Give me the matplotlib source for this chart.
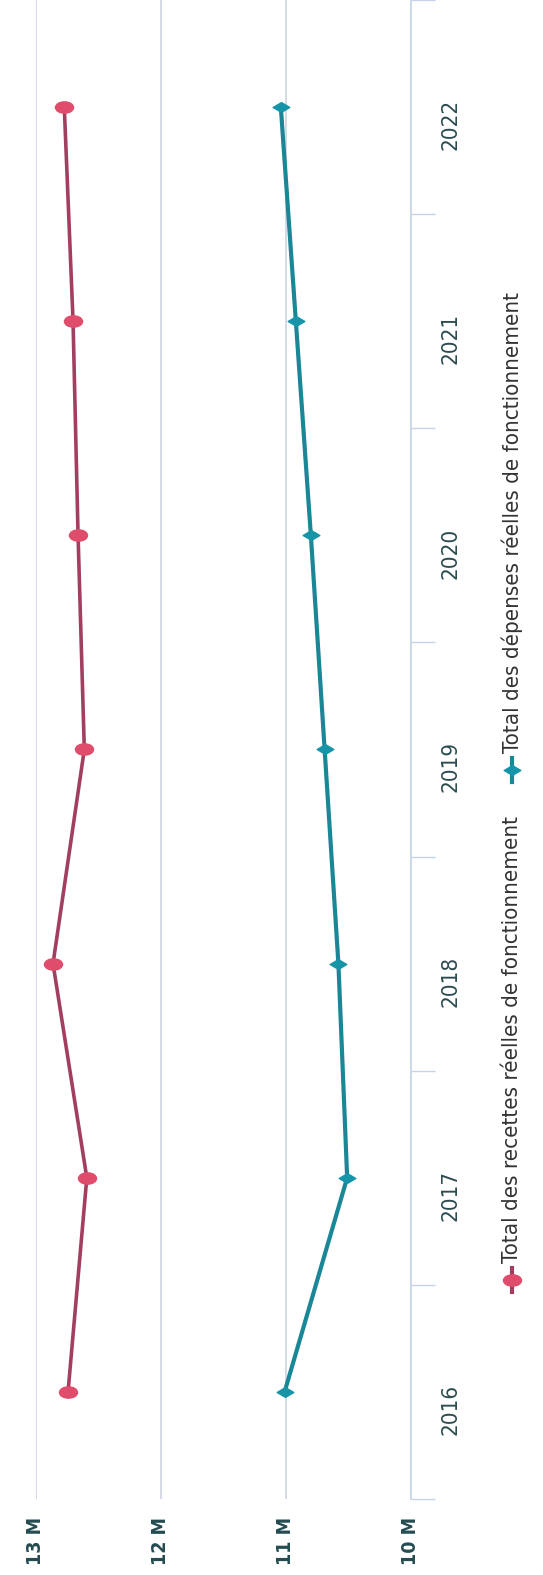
import numpy as np
import matplotlib
matplotlib.use("Agg")
import matplotlib.pyplot as plt
from matplotlib.path import Path
from matplotlib.lines import Line2D

# data (millions of euros)
years = [2016, 2017, 2018, 2019, 2020, 2021, 2022]
recettes = [12.74, 12.59, 12.86, 12.61, 12.66, 12.70, 12.77]
depenses = [11.01, 10.51, 10.58, 10.69, 10.80, 10.92, 11.04]
value_ticks = [10, 11, 12, 13]
value_labels = ["10 M", "11 M", "12 M", "13 M"]
legend_labels = ["Total des recettes réelles de fonctionnement",
                 "Total des dépenses réelles de fonctionnement"]

FONT = ["DejaVu Sans"]
plt.rcParams["font.family"] = FONT
plt.rcParams["font.stretch"] = "condensed"

W, H = 543, 1575
fig = plt.figure(figsize=(W / 100, H / 100), dpi=100)

# axes box in pixels (the chart is turned a quarter turn)
left_px, right_px, top_px, bottom_px = 35.5, 411, 0, 1499
ax = fig.add_axes([left_px / W, 1 - bottom_px / H,
                   (right_px - left_px) / W, (bottom_px - top_px) / H])

# squashed markers, like on the scan
circ = Path.unit_circle()
ellipse = Path(circ.vertices * np.array([1.6, 1.0]), circ.codes)
diamond = Path([(0, 1), (1.7, 0), (0, -1), (-1.7, 0), (0, 1)],
               [Path.MOVETO, Path.LINETO, Path.LINETO, Path.LINETO, Path.CLOSEPOLY])

red_line, red_mk = "#a23f5f", "#e04c6c"
teal_line, teal_mk = "#1a8796", "#1795a8"

ax.plot(recettes, years, color=red_line, lw=2.6, marker=ellipse, ms=13,
        mfc=red_mk, mec=red_mk, zorder=3)
ax.plot(depenses, years, color=teal_line, lw=3.0, marker=diamond, ms=12,
        mfc=teal_mk, mec=teal_mk, zorder=3)

ax.set_xlim(13, 10)
ax.set_ylim(2015.5, 2022.5)

# value axis (bottom)
ax.set_xticks(value_ticks)
ax.set_xticklabels(value_labels, rotation=90, fontsize=14, fontweight="bold",
                   color="#234b50")
ax.tick_params(axis="x", length=0, pad=13)
ax.grid(axis="x", color="#cdd3e2", lw=1.2)

# year axis (right side)
ax.yaxis.tick_right()
ax.set_yticks(years)
ax.set_yticklabels([str(y) for y in years], rotation=90, fontsize=16,
                   color="#2b4b50")
ax.set_yticks(np.arange(2015.5, 2023, 1), minor=True)
ax.tick_params(axis="y", which="major", length=0, pad=21)
ax.tick_params(axis="y", which="minor", length=17, width=1, color="#c5d4ea")

for s in ["top", "left", "bottom"]:
    ax.spines[s].set_visible(False)
ax.spines["right"].set_color("#c5d4ea")
ax.spines["right"].set_linewidth(1.2)

# legend, drawn by hand because it reads bottom to top
leg_x = 512
items = [(1280, red_line, red_mk, ellipse, 13, legend_labels[0]),
         (770, teal_line, teal_mk, diamond, 12, legend_labels[1])]
for ypx, lc, mc, mk, ms, txt in items:
    fy = 1 - ypx / H
    fx = leg_x / W
    fig.add_artist(Line2D([fx, fx], [fy - 12 / H, fy + 12 / H], color=lc, lw=3,
                          transform=fig.transFigure))
    fig.add_artist(Line2D([fx], [fy], marker=mk, ms=ms, color=mc, mfc=mc, mec=mc,
                          transform=fig.transFigure))
    fig.text(fx, fy + 17 / H, txt, rotation=90, ha="center", va="bottom",
             fontsize=16, color="#333333")

fig.savefig("out.png", dpi=100)
